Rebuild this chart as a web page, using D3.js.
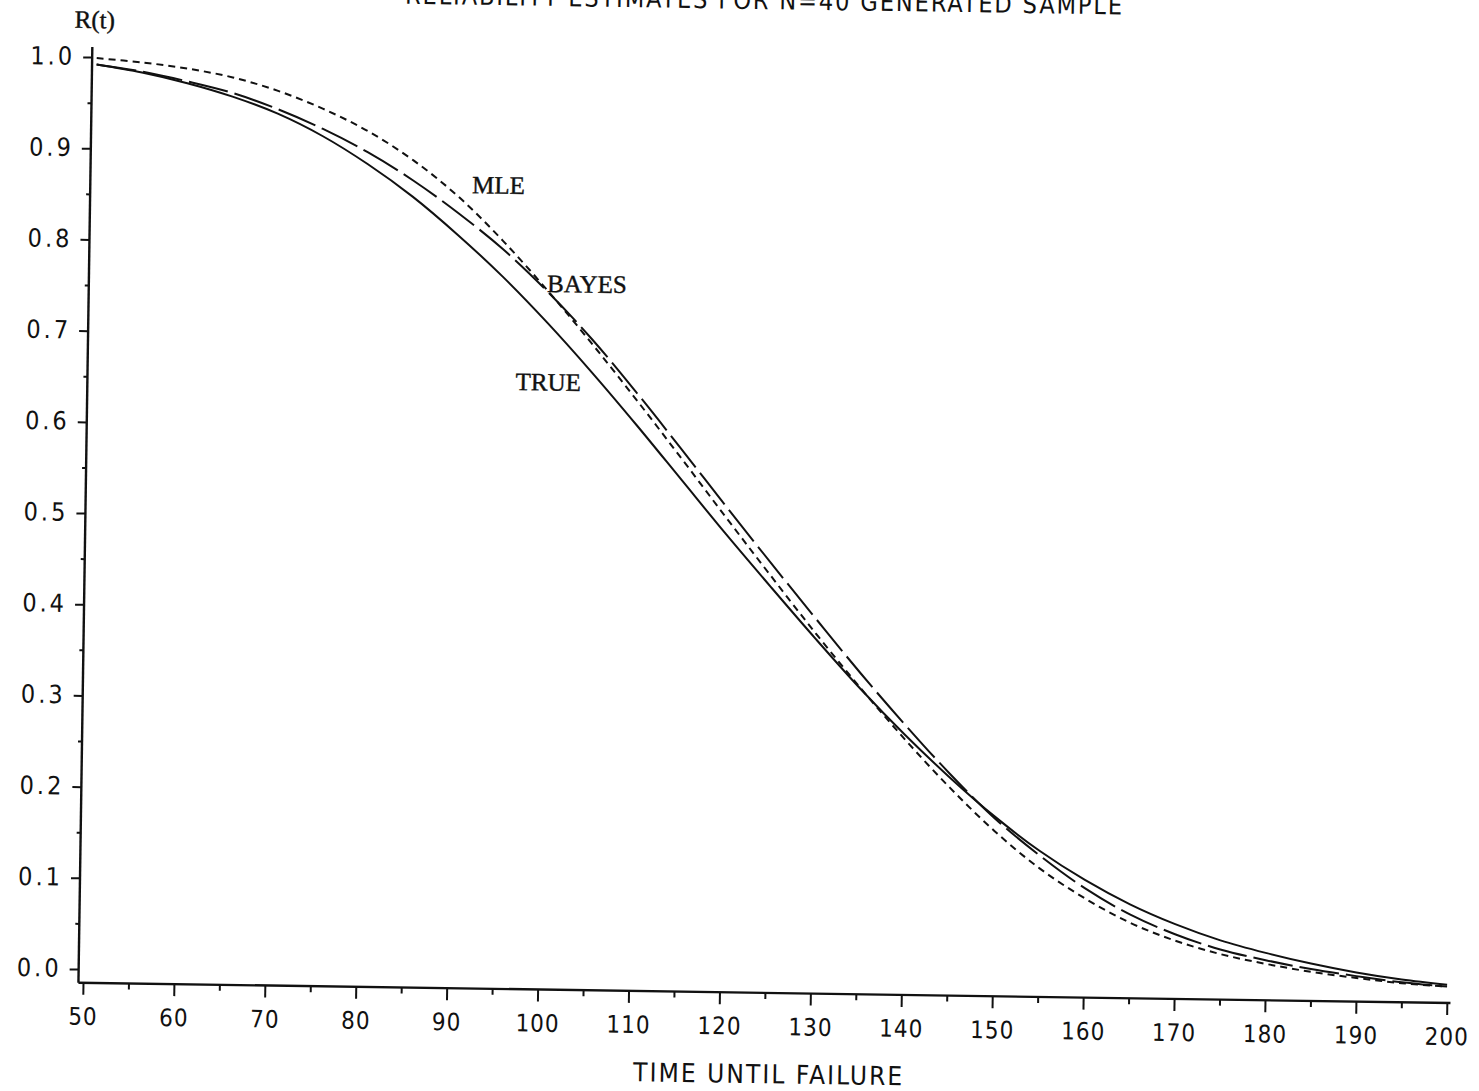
<!DOCTYPE html>
<html>
<head>
<meta charset="utf-8">
<script src="https://cdn.jsdelivr.net/npm/d3@7"></script>
<style>
  body { margin: 0; background: #fff; }
  svg { display: block; background: #fff; }
  .plot-font { font-family: "DejaVu Sans Condensed", "DejaVu Sans", sans-serif; font-stretch: condensed; fill: #111; }
  .serif { font-family: "Liberation Serif", "Times New Roman", serif; fill: #111; stroke: #111; stroke-width: 0.4; }
</style>
</head>
<body>
<script>
// reliability curves, R(t) at every 5 time units
const times = [50, 55, 60, 65, 70, 75, 80, 85, 90, 95, 100, 105, 110, 115, 120, 125,
    130, 135, 140, 145, 150, 155, 160, 165, 170, 175, 180, 185, 190, 195, 200]
const trueR = [0.992, 0.984, 0.973, 0.959, 0.941, 0.917, 0.887, 0.852, 0.811, 0.766, 0.716, 0.662,
    0.605, 0.546, 0.487, 0.430, 0.374, 0.320, 0.270, 0.224, 0.182, 0.145, 0.114, 0.088,
    0.067, 0.050, 0.037, 0.026, 0.017, 0.010, 0.005]
const bayesR = [0.992, 0.985, 0.975, 0.963, 0.946, 0.925, 0.900, 0.870, 0.835, 0.796, 0.750, 0.698,
    0.640, 0.579, 0.517, 0.456, 0.396, 0.337, 0.281, 0.228, 0.180, 0.140, 0.105, 0.077,
    0.056, 0.040, 0.029, 0.020, 0.013, 0.007, 0.003]
const mleR = [0.999, 0.995, 0.989, 0.980, 0.966, 0.947, 0.923, 0.892, 0.853, 0.805, 0.751, 0.693,
    0.632, 0.569, 0.505, 0.442, 0.380, 0.321, 0.265, 0.213, 0.166, 0.126, 0.094, 0.068,
    0.049, 0.035, 0.025, 0.017, 0.011, 0.006, 0.003]

const xTicks = [50, 60, 70, 80, 90, 100, 110, 120, 130, 140, 150, 160, 170, 180, 190, 200]
const xMinorTicks = [55, 65, 75, 85, 95, 105, 115, 125, 135, 145, 155, 165, 175, 185, 195]
const yTicks = [0.0, 0.1, 0.2, 0.3, 0.4, 0.5, 0.6, 0.7, 0.8, 0.9, 1.0]
const yMinorTicks = [0.05, 0.15, 0.25, 0.35, 0.45, 0.55, 0.65, 0.75, 0.85, 0.95]

const series = [
    {name: "TRUE", values: trueR, dash: null},
    {name: "BAYES", values: bayesR, dash: "40,7"},
    {name: "MLE", values: mleR, dash: "7,5"},
]

const width = 1479, height = 1091

const svg = d3.select("body")
    .append("svg")
    .attr("width", width)
    .attr("height", height)

const x = d3.scaleLinear().domain([50, 200]).range([83, 1447])
const y = d3.scaleLinear().domain([0, 1]).range([969, 57])

// the scanned page sits slightly skewed, so the whole drawing is turned a little
const g = svg.append("g").attr("transform", "rotate(0.85,77,982)")

const axisX = x(49.5)
const axisY = y(-0.015)

// title, cut by the top of the page as in the scan
g.append("text")
    .attr("class", "plot-font")
    .attr("x", 749)
    .attr("y", -1)
    .attr("text-anchor", "middle")
    .attr("font-size", 25)
    .attr("textLength", 717)
    .attr("lengthAdjust", "spacing")
    .text("RELIABILITY ESTIMATES FOR N=40 GENERATED SAMPLE")

g.append("text")
    .attr("class", "serif")
    .attr("x", axisX + 2)
    .attr("y", 28)
    .attr("text-anchor", "middle")
    .attr("font-size", 25)
    .text("R(t)")

// y axis
const yAxis = g.append("g")
    .attr("transform", `translate(${axisX},0)`)
    .call(d3.axisLeft(y).tickValues(yTicks).tickSize(9).tickPadding(8).tickFormat(d3.format(".1f")))
yAxis.select(".domain").remove()
yAxis.selectAll(".tick line").attr("stroke", "#111").attr("stroke-width", 2)
yAxis.selectAll(".tick text")
    .attr("class", "plot-font")
    .attr("font-size", 25)
    .attr("letter-spacing", 3)
    .attr("dy", "0.3em")

const yMinor = g.append("g")
    .attr("transform", `translate(${axisX},0)`)
    .call(d3.axisLeft(y).tickValues(yMinorTicks).tickSize(4).tickFormat(""))
yMinor.select(".domain").remove()
yMinor.selectAll(".tick line").attr("stroke", "#111").attr("stroke-width", 2)

// x axis
const xAxis = g.append("g")
    .attr("transform", `translate(0,${axisY})`)
    .call(d3.axisBottom(x).tickValues(xTicks).tickSize(12).tickFormat(d3.format("d")))
xAxis.select(".domain").remove()
xAxis.selectAll(".tick line").attr("stroke", "#111").attr("stroke-width", 2)
xAxis.selectAll(".tick text")
    .attr("class", "plot-font")
    .attr("font-size", 24)
    .attr("letter-spacing", 1)
    .attr("y", 42)
    .attr("dy", null)

const xMinor = g.append("g")
    .attr("transform", `translate(0,${axisY})`)
    .call(d3.axisBottom(x).tickValues(xMinorTicks).tickSize(6).tickFormat(""))
xMinor.select(".domain").remove()
xMinor.selectAll(".tick line").attr("stroke", "#111").attr("stroke-width", 2)

// axis lines
g.append("line")
    .attr("x1", axisX).attr("x2", axisX)
    .attr("y1", y(1.011)).attr("y2", axisY)
    .attr("stroke", "#111").attr("stroke-width", 2.4)
g.append("line")
    .attr("x1", axisX).attr("x2", x(200.4))
    .attr("y1", axisY).attr("y2", axisY)
    .attr("stroke", "#111").attr("stroke-width", 2.4)

g.append("text")
    .attr("class", "plot-font")
    .attr("x", 769)
    .attr("y", 1073)
    .attr("text-anchor", "middle")
    .attr("font-size", 26)
    .attr("textLength", 269)
    .attr("lengthAdjust", "spacing")
    .text("TIME UNTIL FAILURE")

// curves
const line = d3.line()
    .x(d => x(d[0]))
    .y(d => y(d[1]))
    .curve(d3.curveCatmullRom.alpha(0.5))

g.selectAll(".curve")
    .data(series)
    .enter()
    .append("path")
    .attr("class", "curve")
    .attr("fill", "none")
    .attr("stroke", "#111")
    .attr("stroke-width", 2)
    .attr("stroke-dasharray", s => s.dash)
    .attr("d", s => line(times.map((t, i) => [t, s.values[i]])))

// curve names written next to the lines
const curveLabels = [
    {name: "MLE", t: 91.5, r: 0.857},
    {name: "BAYES", t: 99.9, r: 0.750},
    {name: "TRUE", t: 96.6, r: 0.642},
]
g.selectAll(".curve-label")
    .data(curveLabels)
    .enter()
    .append("text")
    .attr("class", "serif curve-label")
    .attr("x", d => x(d.t))
    .attr("y", d => y(d.r))
    .attr("font-size", 25)
    .text(d => d.name)
</script>
</body>
</html>
